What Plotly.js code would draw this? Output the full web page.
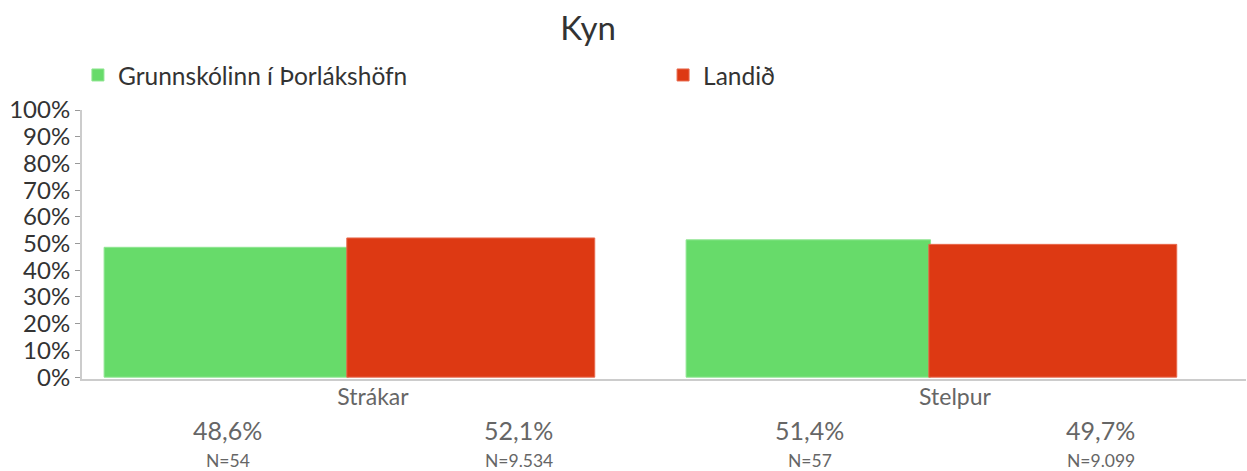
<!DOCTYPE html>
<html>
<head>
<meta charset="utf-8">
<script src="https://cdn.plot.ly/plotly-3.0.1.min.js"></script>
<style>html,body{margin:0;padding:0;background:#fff;}#chart{width:1247px;height:471px;}</style>
</head>
<body>
<div id="chart"></div>
<script>
var categories = ["Strákar", "Stelpur"];
var seriesNames = ["Grunnskólinn í Þorlákshöfn", "Landið"];
var schoolValues = [0.486, 0.514];
var nationalValues = [0.521, 0.497];
var schoolN = ["N=54", "N=57"];
var nationalN = ["N=9.534", "N=9.099"];
var pctLabels = [["48,6%", "51,4%"], ["52,1%", "49,7%"]];
var yTickVals = [0, 0.1, 0.2, 0.3, 0.4, 0.5, 0.6, 0.7, 0.8, 0.9, 1];
var yTickText = ["0%", "10%", "20%", "30%", "40%", "50%", "60%", "70%", "80%", "90%", "100%"];

var FONT = "Lato, 'Open Sans', sans-serif";
var green = "#67db6a", red = "#dd3913";

var traces = [
  {type: "bar", name: seriesNames[0], x: categories, y: schoolValues,
   offset: -0.462, width: 0.42, legend: "legend",
   marker: {color: green, line: {color: "#8fe591", width: 1}}, hoverinfo: "none"},
  {type: "bar", name: seriesNames[1], x: categories, y: nationalValues,
   offset: -0.045, width: 0.426, legend: "legend2",
   marker: {color: red, line: {color: "#e86a4e", width: 1}}, hoverinfo: "none"}
];

var annotations = [];
categories.forEach(function (c, i) {
  var positions = [i - 0.25, i + 0.25];
  var ns = [schoolN[i], nationalN[i]];
  for (var s = 0; s < 2; s++) {
    annotations.push({x: positions[s], xref: "x", y: 0, yref: "paper", yshift: -51,
      text: pctLabels[s][i], showarrow: false, yanchor: "middle",
      font: {family: FONT, size: 25, color: "#666"}});
    annotations.push({x: positions[s], xref: "x", y: 0, yref: "paper", yshift: -81,
      text: ns[s], showarrow: false, yanchor: "middle",
      font: {family: FONT, size: 17.5, color: "#666"}});
  }
});

var legendFont = {family: FONT, size: 24.5, color: "#333"};

var layout = {
  width: 1247, height: 471,
  margin: {l: 82, r: 1, t: 110, b: 92, pad: 0},
  paper_bgcolor: "#fff", plot_bgcolor: "#fff",
  font: {family: FONT, color: "#333"},
  title: {text: "Kyn", x: 0.4716, xref: "container", xanchor: "center",
          y: 0.94, yref: "container", yanchor: "middle",
          font: {family: FONT, size: 33, color: "#333"}},
  showlegend: true,
  legend: {orientation: "h", x: -0.0035, xanchor: "left", y: 1.13, yanchor: "middle",
           font: legendFont},
  legend2: {orientation: "h", x: 0.4992, xanchor: "left", y: 1.13, yanchor: "middle",
           font: legendFont},
  barmode: "overlay",
  xaxis: {type: "category", range: [-0.5, 1.5], showgrid: false, zeroline: false,
          showline: true, linecolor: "#cccccc", linewidth: 2, ticks: "",
          tickfont: {family: FONT, size: 23, color: "#666"}, ticklabelstandoff: -4,
          fixedrange: true},
  yaxis: {range: [-0.007, 1], tickvals: yTickVals, ticktext: yTickText, showgrid: false,
          zeroline: false, showline: true, linecolor: "#cccccc", linewidth: 2,
          ticks: "outside", ticklen: 5, tickcolor: "#999", tickwidth: 1,
          tickfont: {family: FONT, size: 24, color: "#333"}, fixedrange: true},
  annotations: annotations
};

Plotly.newPlot("chart", traces, layout, {displayModeBar: false, staticPlot: true});
</script>
</body>
</html>
